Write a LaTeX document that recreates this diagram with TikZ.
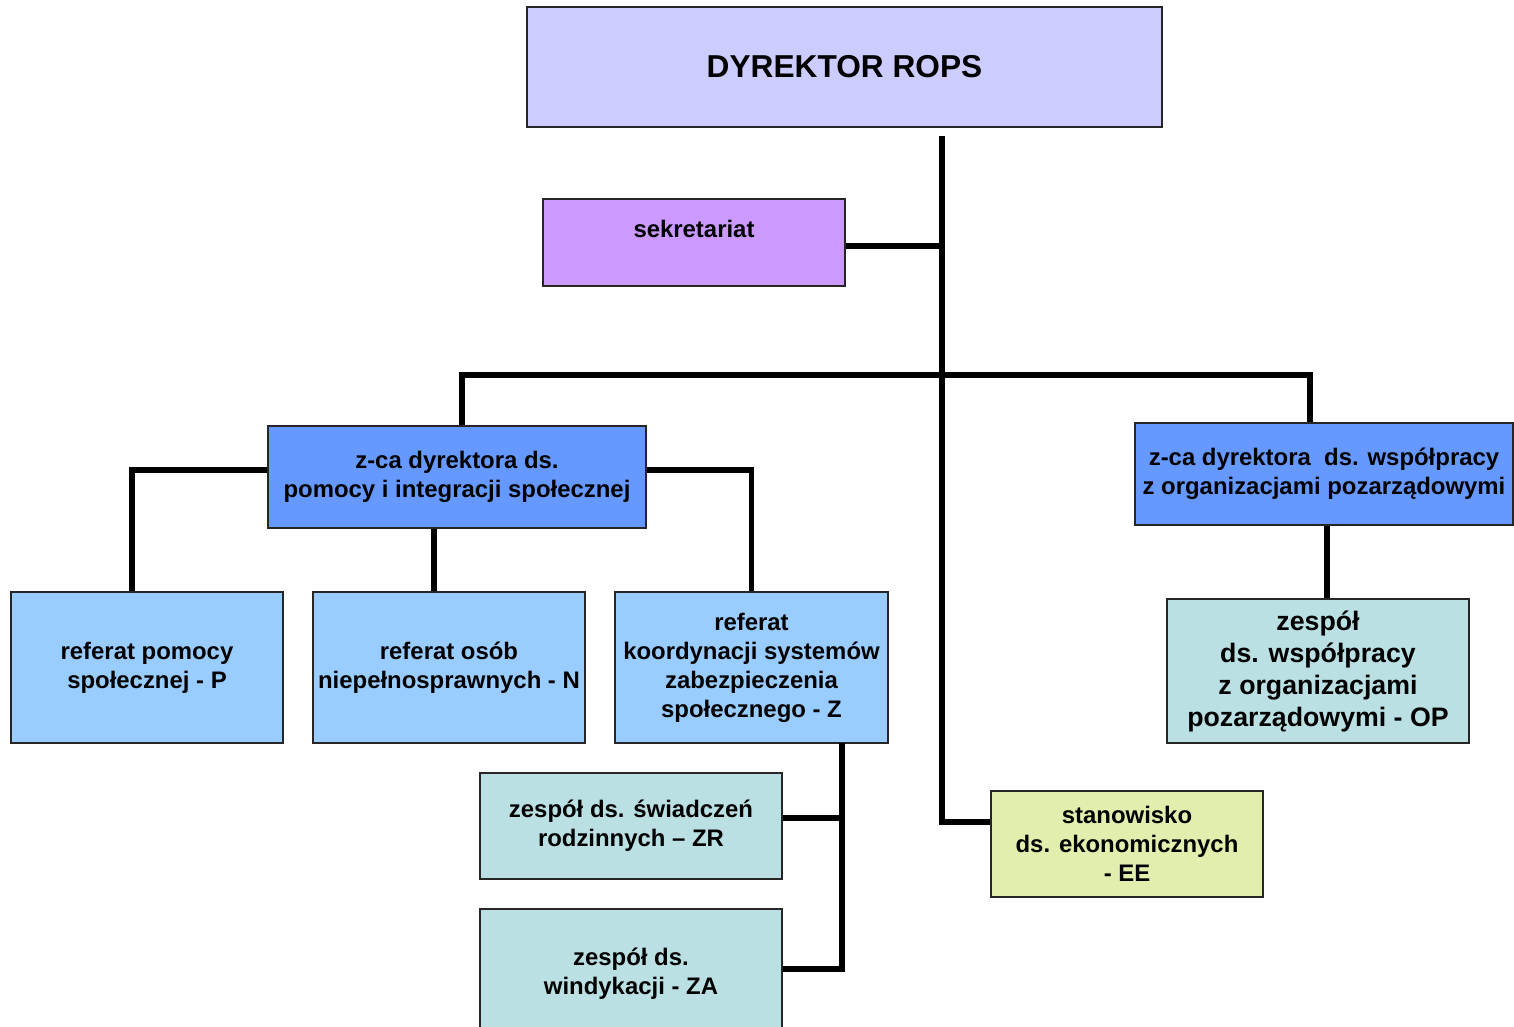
\documentclass[tikz,border=0pt]{standalone}
\usepackage{fontspec}
\setmainfont{Liberation Sans}
\usetikzlibrary{positioning}

\definecolor{dyrcol}{HTML}{CCCCFF}
\definecolor{sekcol}{HTML}{CC99FF}
\definecolor{zcacol}{HTML}{6699FF}
\definecolor{refcol}{HTML}{99CCFF}
\definecolor{zescol}{HTML}{BBE0E3}
\definecolor{stacol}{HTML}{E1EFAE}

\begin{document}
\begin{tikzpicture}[x=0.01cm,y=-0.01cm,
  conn/.style={line width=1.7pt},
  box/.style={draw=black!85,line width=0.6pt,align=center,inner sep=0pt,
    font=\fontsize{6.8}{8.25}\selectfont\bfseries},
  dyr node/.style={box,fill=dyrcol,minimum width=6.35cm,minimum height=1.20cm,
    font=\fontsize{9}{11}\selectfont\bfseries},
  sek node/.style={box,fill=sekcol,minimum width=3.02cm,minimum height=0.87cm,text depth=0.27cm},
  zca node/.style={box,fill=zcacol,minimum width=3.78cm,minimum height=1.02cm},
  ref node/.style={box,fill=refcol,minimum width=2.72cm,minimum height=1.51cm},
  zes node/.style={box,fill=zescol,minimum width=3.02cm,minimum height=1.06cm},
  sta node/.style={box,fill=stacol,minimum width=2.72cm,minimum height=1.06cm}]

  \useasboundingbox (0,0) rectangle (1514,1027);
  \clip (0,0) rectangle (1514,1027);

  \node[dyr node] (dyr) at (844.5,67) {DYREKTOR ROPS};
  \node[sek node] (sek) at (694,242.5) {sekretariat};

  \node[zca node] (zca1) at (457,477) {z-ca dyrektora ds.\\pomocy i integracji społecznej};
  \node[zca node] (zca2) at (1324,474) {z-ca dyrektora \ ds. współpracy\\z organizacjami pozarządowymi};

  \node[ref node] (refp) at (147,667.5) {referat pomocy\\społecznej - P};
  \node[ref node] (refn) at (449,667.5) {referat osób\\niepełnosprawnych - N};
  \node[ref node] (refz) at (751.5,667.5) {referat\\koordynacji systemów\\zabezpieczenia\\społecznego - Z};

  \node[zes node] (zr) at (631,826) {zespół ds. świadczeń\\rodzinnych -- ZR};
  \node[zes node,minimum height=1.30cm] (za) at (631,974) {zespół ds.\\windykacji - ZA};

  \node[zes node,minimum height=1.44cm,font=\fontsize{7.6}{9.1}\selectfont\bfseries]
    (op) at (1318,671) {zespół\\ds. współpracy\\z organizacjami\\pozarządowymi - OP};
  \node[sta node] (ee) at (1127,844) {stanowisko\\ds. ekonomicznych\\- EE};

  \coordinate (top) at (942,136);
  \coordinate (bar) at (942,375);
  \coordinate (eejoin) at (942,822);
  \coordinate (zspine) at (842,743);

  % main line
  \draw[conn] (top) -- (eejoin) -- (eejoin -| ee.west);
  \draw[conn] ([yshift=-0.035cm]sek.east) -- ([yshift=-0.035cm]sek.east -| top);
  \draw[conn] ([xshift=0.05cm]zca1.north) |- (bar) -| ([xshift=-0.14cm]zca2.north);

  % pion pomocy
  \draw[conn] ([yshift=0.07cm]zca1.west) -| ([xshift=-0.15cm]refp.north);
  \draw[conn] ([yshift=0.07cm]zca1.east) -| (refz.north);
  \draw[conn] ([xshift=-0.15cm]refn.north) -- ([xshift=-0.15cm]refn.north |- zca1.south);
  \draw[conn] (zspine) |- ([yshift=0.08cm]zr.east);
  \draw[conn] (zspine) |- ([yshift=0.05cm]za.east);

  % pion współpracy
  \draw[conn] ([xshift=0.03cm]zca2.south) -- ([xshift=0.03cm]zca2.south |- op.north);

\end{tikzpicture}
\end{document}
